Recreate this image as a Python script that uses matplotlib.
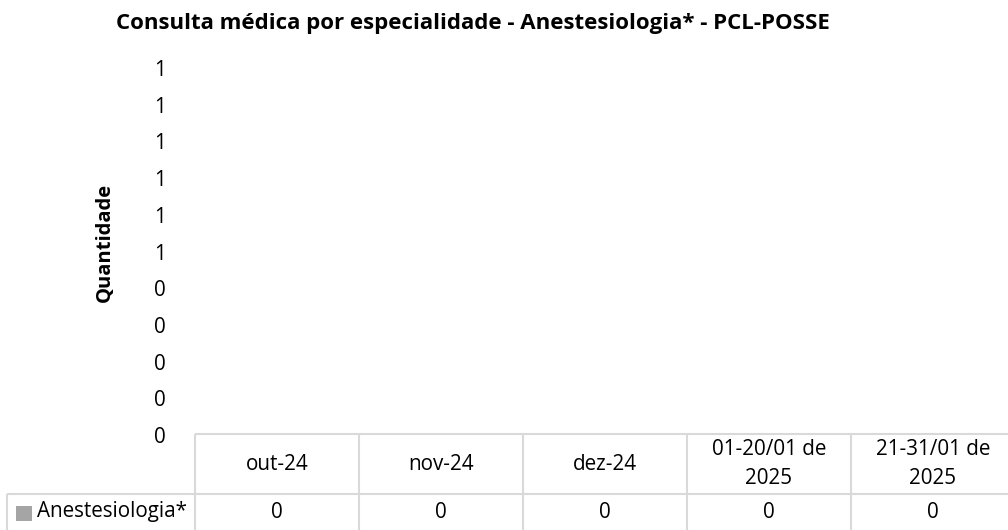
import matplotlib
matplotlib.use('Agg')
import matplotlib.pyplot as plt
import numpy as np

plt.rcParams['font.family'] = ['Open Sans', 'DejaVu Sans']

categories = ['out-24', 'nov-24', 'dez-24', '01-20/01 de\n2025', '21-31/01 de\n2025']
series_name = 'Anestesiologia*'
values = [0, 0, 0, 0, 0]
y_ticks = [0, 0.1, 0.2, 0.3, 0.4, 0.5, 0.6, 0.7, 0.8, 0.9, 1.0]
title = 'Consulta médica por especialidade - Anestesiologia* - PCL-POSSE'
y_label = 'Quantidade'

W, H = 1008, 530
GRID = '#d9d9d9'
BAR = '#a5a5a5'
fig = plt.figure(figsize=(W / 100, H / 100), dpi=100)
renderer = fig.canvas.get_renderer()


def fit_size(text, target_px, weight='normal', rotation=0):
    # size a font so the text spans target_px, like the reference
    t = fig.text(0, 0, text, fontsize=10, fontweight=weight, rotation=rotation)
    bb = t.get_window_extent(renderer)
    span = bb.height if rotation else bb.width
    t.remove()
    return 10 * target_px / span


title_fs = fit_size(title, 830 - 116, 'bold')
ylab_fs = fit_size(y_label, 302 - 183, 'bold', rotation=90)
body_fs = fit_size(series_name, 187 - 37)

# plot area in pixels (left, top, right, bottom)
pl, pt, pr, pb = 195, 68, 1015, 435
ax = fig.add_axes([pl / W, 1 - pb / H, (pr - pl) / W, (pb - pt) / H])

x = np.arange(len(categories))
ax.bar(x, values, width=0.6, color=BAR)
ax.set_xlim(-0.5, len(categories) - 0.5)
ax.set_ylim(0, 1)
ax.set_yticks(y_ticks)
# excel rounds the 0.1 steps to whole numbers
ax.set_yticklabels([str(int(v + 0.5)) for v in y_ticks])
ax.tick_params(axis='y', length=0, pad=21, labelsize=body_fs)
ax.set_xticks([])
for s in ax.spines.values():
    s.set_visible(False)

fig.text(473 / W, 1 - 23 / H, title,
         ha='center', va='center', fontsize=title_fs, fontweight='bold')
fig.text(105 / W, 1 - 242 / H, y_label, rotation=90,
         ha='center', va='center', fontsize=ylab_fs, fontweight='bold')

# data table, drawn on an overlay axes in pixel units
tax = fig.add_axes([0, 0, 1, 1], facecolor='none')
tax.set_xlim(0, W)
tax.set_ylim(H, 0)
tax.axis('off')

col_w = (pr - pl) / len(categories)
lab_left = 7
top, mid, bot = 434, 494, 545
edges = [pl + i * col_w for i in range(len(categories) + 1)]

lw = 1.5
tax.hlines(top, pl, pr, color=GRID, lw=lw)
tax.hlines(mid, lab_left, pr, color=GRID, lw=lw)
tax.hlines(bot, lab_left, pr, color=GRID, lw=lw)
tax.vlines(lab_left, mid, bot, color=GRID, lw=lw)
tax.vlines(edges, top, bot, color=GRID, lw=lw)

for i, (cat, val) in enumerate(zip(categories, values)):
    cx = pl + (i + 0.5) * col_w
    tax.text(cx, (top + mid) / 2, cat, ha='center', va='center',
             fontsize=body_fs, linespacing=1.55)
    tax.text(cx, 512, str(val), ha='center', va='center', fontsize=body_fs)

tax.add_patch(plt.Rectangle((16, 506), 16, 15, color=BAR, lw=0))
tax.text(37, 512, series_name, ha='left', va='center', fontsize=body_fs)

fig.savefig('out.png', dpi=100)
